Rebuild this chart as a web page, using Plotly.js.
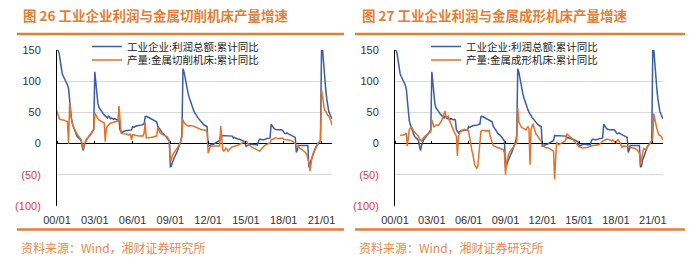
<!DOCTYPE html>
<html><head><meta charset="utf-8">
<script src="https://cdn.plot.ly/plotly-3.0.1.min.js"></script>
<style>html,body{margin:0;padding:0;background:#fff;}#chart{width:700px;height:269px;}</style>
</head><body><div id="chart"></div>
<script>
// ---- data (monthly, from 2000-01) ----
const startYear = 2000;
const profit = [
 150,150,145,135,120,112,108,105,102,98,94,88,
 65,45,37,30,25,20,15,12,10,8,6,5,
 -5,-11,-3,3,6,8,10,12,14,17,20,22,
 115,95,80,64,58,55,52,50,48,46,44,42,
 41,44,43,40,41,40,39,40,39,38,39,38,
 22,18,17,19,20,20,21,21,21,22,22,22,
 27,26,27,28,28,29,29,29,30,30,31,31,
 43,44,43,42,41,40,40,39,38,37,36,35,
 28,25,22,20,18,16,15,13,11,9,6,4,
 -37,-36,-30,-25,-22,-18,-15,-10,-6,-1,4,13,
 120,115,105,97,88,80,74,68,63,58,54,50,
 48,45,42,40,37,35,33,31,30,29,28,27,
 -4,-3,-2,-2,-1,-1,0,0,1,2,4,5,
 13,13,13,12,12,12,12,13,13,13,13,12,
 9,10,9,8,8,7,7,6,5,4,4,3,
 -4,-3,-2,-1,-1,-1,-1,-2,-2,-2,-2,-2,
 4,7,7,6,6,6,7,8,8,8,9,9,
 31,28,25,24,23,22,22,22,22,23,22,21,
 17,16,16,17,16,15,15,14,13,11,11,10,
 -14,-10,-3,-3,-2,-2,-2,-2,-2,-2,-2,-3,
 -38,-36,-27,-22,-19,-13,-8,-4,-2,1,2,4,
 150,150,125,108,88,72,58,51,47,44,40
];
const cuttingOutput = [
 52,45,41,39,38,38,38,37,37,36,35,0,
 64,46,37,30,25,21,18,16,13,10,8,6,
 -2,-8,0,4,7,9,11,13,15,18,21,23,
 49,45,42,40,38,37,36,35,34,33,3,24,
 28,30,32,33,33,34,34,35,35,36,36,60,
 38,17,16,16,16,16,15,15,14,14,15,6,
 14,14,13,13,13,12,12,12,12,12,12,17,
 34,9,9,9,9,9,10,10,11,11,12,12,
 26,20,18,16,15,14,13,13,12,11,8,5,
 -30,-22,-19,-16,-13,-10,-8,-6,-4,0,5,12,
 38,34,31,30,29,28,28,29,29,28,28,27,
 27,26,25,24,23,23,22,22,22,21,21,20,
 -15,-10,-5,-4,-4,-3,-3,-4,-4,-4,-4,-4,
 28,2,-10,-12,-10,-7,-9,-12,-10,-8,-6,-5,
 -5,-4,-4,-3,-3,-2,-2,-1,0,1,2,3,
 4,2,0,-2,-4,-5,-6,-7,-8,-9,-10,-11,
 -12,-12,-10,-8,-6,-4,-3,-2,-1,0,1,1,
 6,7,8,9,9,9,8,8,8,8,9,9,
 7,6,6,6,6,6,5,5,4,3,2,0,
 -2,-4,-6,-7,-8,-9,-10,-11,-13,-15,-18,-24,
 -30,-44,-31,-22,-16,-12,-8,-5,-2,1,3,5,
 86,72,60,53,52,48,45,44,40,36,29
];
const formingOutput = [
 null,null,null,null,null,13,13,13,13,14,15,17,
 -4,15,22,25,27,24,20,18,17,15,14,12,
 7,5,4,8,10,12,13,14,15,16,18,19,
 38,30,27,28,30,30,29,30,33,35,38,44,
 48,52,42,43,44,38,34,28,25,22,18,15,
 12,-20,12,15,20,21,22,23,23,22,22,21,
 20,8,4,-10,-16,-28,-34,-37,-40,-36,-20,-4,
 20,21,21,22,21,20,21,20,21,12,6,2,
 -3,-4,-5,-5,-6,-7,-7,-8,-8,-9,-10,-15,
 -50,-30,-22,-18,-14,-11,-9,-7,-5,-2,0,1,
 57,35,30,28,26,25,25,24,22,25,27,24,
 -34,23,28,32,25,18,15,13,11,9,7,4,
 1,-3,-5,-6,-7,-7,-7,-8,-8,-9,-10,-12,
 -57,-15,3,0,-2,-1,0,1,1,2,4,6,
 16,14,12,11,10,8,6,5,3,1,-2,-4,
 -5,-6,-7,-7,-7,-7,-7,-7,-6,-6,-5,-4,
 -4,-3,-3,-3,-2,-2,-2,-2,-1,0,2,4,
 5,6,7,7,7,7,6,5,4,6,4,1,
 0,5,6,4,2,-3,-6,-4,-4,-5,-5,-4,
 -4,-5,-6,-7,-7,-7,-7,-8,-9,-11,-12,-15,
 -34,-24,-13,-8,-9,-10,-7,-5,-3,0,2,4,
 10,48,40,30,24,19,14,13,12,9,6
];
const tickDates = ['2000-01-01','2003-01-01','2006-01-01','2009-01-01','2012-01-01','2015-01-01','2018-01-01','2021-01-01'];
const tickLabels = ['00/01','03/01','06/01','09/01','12/01','15/01','18/01','21/01'];
const yVals = [-100,-50,0,50,100,150];
const yLabels = ['(100)','(50)','0','50','100','150'];
const nameProfit = '工业企业:利润总额:累计同比';
const nameCutting = '产量:金属切削机床:累计同比';
const nameForming = '产量:金属成形机床:累计同比';
const title1 = '图 26 工业企业利润与金属切削机床产量增速';
const title2 = '图 27 工业企业利润与金属成形机床产量增速';
const sourceText = '资料来源：Wind，湘财证券研究所';

// ---- layout helpers ----
const W = 700, H = 269;
const px = v => v / W, py = v => 1 - v / H;
const dates = profit.map((_, i) => {
  const y = startYear + Math.floor(i / 12), m = i % 12 + 1;
  return y + '-' + String(m).padStart(2, '0') + '-01';
});
const BLUE = '#3A5DA6', ORANGE = '#E2722A', ACCENT = '#E57E35';
const CJK = '"Noto Sans CJK SC", "Noto Sans", sans-serif';
const NUM = '"Liberation Sans", Arial, sans-serif';
const xRange = ['2000-01-01', '2021-11-01'];
const yDomain = [py(206), py(50)];
const zeroFrac = yDomain[0] + (0 - (-100)) / 250 * (yDomain[1] - yDomain[0]);
const yTickText = yLabels.map(t => t.startsWith('(') ? '<span style="color:#E23B30">' + t + '</span>' : t);

function xAxis(dom) {
  return {domain: dom, type: 'date', range: xRange, tickvals: tickDates, ticktext: tickLabels,
    showgrid: false, showline: false, zeroline: false, ticks: '', ticklabelstandoff: 6,
    tickfont: {family: NUM, size: 11, color: '#333'}, fixedrange: true};
}
function tickAxis(over) {
  return {overlaying: over, anchor: 'free', position: zeroFrac, side: 'top', type: 'date', range: xRange,
    tickvals: tickDates, ticks: 'outside', ticklen: 3, tickcolor: '#000', tickwidth: 1,
    showticklabels: false, showgrid: false, showline: false, zeroline: false};
}
function yAxis(anchor) {
  return {domain: yDomain, anchor: anchor, range: [-100, 150], tickvals: yVals, ticktext: yTickText,
    showgrid: true, gridcolor: '#D9D9D9', gridwidth: 1, zeroline: true, zerolinecolor: '#000', zerolinewidth: 1.3,
    showline: true, linecolor: '#000', linewidth: 1, ticks: '', ticklabelstandoff: 13,
    tickfont: {family: NUM, size: 11, color: '#333'}, fixedrange: true};
}
function legendAt(xpix, ypix) {
  return {x: px(xpix), y: py(ypix), xanchor: 'left', yanchor: 'top', bgcolor: 'rgba(0,0,0,0)',
    borderwidth: 0, itemwidth: 30, font: {family: CJK, size: 10.5, color: '#222'}, tracegroupgap: 0};
}

const line = c => ({color: c, width: 1.5});
const traces = [
  {x: dates, y: profit, xaxis: 'x', yaxis: 'y', name: nameProfit, mode: 'lines', line: line(BLUE), legend: 'legend'},
  {x: dates, y: cuttingOutput, xaxis: 'x', yaxis: 'y', name: nameCutting, mode: 'lines', line: line(ORANGE), legend: 'legend2'},
  {x: dates, y: profit, xaxis: 'x2', yaxis: 'y2', name: nameProfit, mode: 'lines', line: line(BLUE), legend: 'legend3'},
  {x: dates, y: formingOutput, xaxis: 'x2', yaxis: 'y2', name: nameForming, mode: 'lines', line: line(ORANGE), legend: 'legend4'},
  {x: [dates[0]], y: [null], xaxis: 'x3', yaxis: 'y', showlegend: false, hoverinfo: 'skip'},
  {x: [dates[0]], y: [null], xaxis: 'x4', yaxis: 'y2', showlegend: false, hoverinfo: 'skip'}
];

const sep = (x0, x1, y) => ({type: 'line', xref: 'paper', yref: 'paper', x0: px(x0), x1: px(x1), y0: py(y), y1: py(y),
  line: {color: ACCENT, width: 2.5}});
const layout = {
  width: W, height: H, margin: {l: 0, r: 0, t: 0, b: 0},
  paper_bgcolor: '#fff', plot_bgcolor: '#fff', showlegend: true,
  xaxis: xAxis([px(57), px(332)]),
  xaxis2: Object.assign(xAxis([px(395), px(663)]), {anchor: 'y2'}),
  xaxis3: tickAxis('x'),
  xaxis4: tickAxis('x2'),
  yaxis: yAxis('x'),
  yaxis2: yAxis('x2'),
  legend: legendAt(87, 32), legend2: legendAt(87, 45.5),
  legend3: legendAt(426, 32), legend4: legendAt(426, 45.5),
  shapes: [sep(17, 344, 34), sep(355, 685, 34), sep(17, 344, 229.5), sep(355, 685, 229.5)],
  annotations: [
    {text: '<b>' + title1 + '</b>', xref: 'paper', yref: 'paper', x: px(21), y: py(14.5), xanchor: 'left', yanchor: 'middle',
     showarrow: false, font: {family: CJK, size: 13.5, color: ACCENT}},
    {text: '<b>' + title2 + '</b>', xref: 'paper', yref: 'paper', x: px(360), y: py(14.5), xanchor: 'left', yanchor: 'middle',
     showarrow: false, font: {family: CJK, size: 13.5, color: ACCENT}},
    {text: sourceText, xref: 'paper', yref: 'paper', x: px(19), y: py(247), xanchor: 'left', yanchor: 'middle',
     showarrow: false, font: {family: CJK, size: 12, color: '#E48A4E'}},
    {text: sourceText, xref: 'paper', yref: 'paper', x: px(357), y: py(247), xanchor: 'left', yanchor: 'middle',
     showarrow: false, font: {family: CJK, size: 12, color: '#E48A4E'}}
  ]
};
Plotly.newPlot('chart', traces, layout, {staticPlot: true, displayModeBar: false});
</script></body></html>
